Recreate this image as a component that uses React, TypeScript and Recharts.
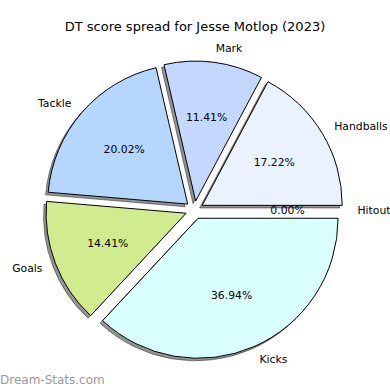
import { PieChart, Pie, Sector } from "recharts"

const categories = ["Handballs", "Mark", "Tackle", "Goals", "Kicks", "Hitout"]
const shares = [17.22, 11.41, 20.02, 14.41, 36.94, 0]
const colors = ["#eaf1ff", "#c4d8ff", "#b4d6ff", "#d1eb8f", "#d9ffff", "#f0f0f0"]

const data = categories.map((name, i) => ({ name, value: shares[i], color: colors[i] }))

const R = 140
const EXPLODE = 9
const SHADOW = 2.6
const FONT = "'DejaVu Sans', sans-serif"
const RAD = Math.PI / 180

// offset of an exploded wedge along its middle angle
const shift = (midAngle: number, dist: number) => ({
    dx: dist * Math.cos(-midAngle * RAD),
    dy: dist * Math.sin(-midAngle * RAD),
})

const renderShadow = (p: any) => {
    const { dx, dy } = shift(p.midAngle, EXPLODE)
    return (
        <Sector
            cx={p.cx + dx - SHADOW}
            cy={p.cy + dy + SHADOW}
            innerRadius={0}
            outerRadius={p.outerRadius}
            startAngle={p.startAngle}
            endAngle={p.endAngle}
            fill="#000"
            fillOpacity={0.42}
            stroke="#000"
            strokeOpacity={0.42}
            strokeWidth={1}
        />
    )
}

const renderSlice = (p: any) => {
    const { dx, dy } = shift(p.midAngle, EXPLODE)
    const ecx = p.cx + dx
    const ecy = p.cy + dy
    const cos = Math.cos(-p.midAngle * RAD)
    const sin = Math.sin(-p.midAngle * RAD)
    const lx = ecx + 1.1 * p.outerRadius * cos
    const ly = ecy + 1.1 * p.outerRadius * sin
    const px = ecx + 0.6 * p.outerRadius * cos
    const py = ecy + 0.6 * p.outerRadius * sin
    return (
        <g>
            <Sector
                cx={ecx}
                cy={ecy}
                innerRadius={0}
                outerRadius={p.outerRadius}
                startAngle={p.startAngle}
                endAngle={p.endAngle}
                fill={p.payload.color}
                stroke="#000"
                strokeWidth={1}
            />
            <text x={px} y={py} textAnchor="middle" dominantBaseline="central" fontSize={10.8} fontFamily={FONT} fill="#000">
                {(p.percent * 100).toFixed(2)}%
            </text>
            <text x={lx} y={ly} textAnchor={cos >= 0 ? "start" : "end"} dominantBaseline="central" fontSize={10.8} fontFamily={FONT} fill="#000">
                {p.name}
            </text>
        </g>
    )
}

export default function App() {
    return (
        <div style={{ position: "absolute", left: 0, top: 0, width: 390, height: 390, background: "#fff" }}>
            <PieChart width={390} height={390} margin={{ top: 0, right: 0, bottom: 0, left: 0 }}>
                <text x={195} y={26} textAnchor="middle" dominantBaseline="central" fontSize={13} fontFamily={FONT} fill="#000">
                    DT score spread for Jesse Motlop (2023)
                </text>
                <Pie
                    data={data}
                    dataKey="value"
                    nameKey="name"
                    cx={194.5}
                    cy={210}
                    outerRadius={R}
                    startAngle={0}
                    endAngle={360}
                    fill="none"
                    stroke="none"
                    label={renderShadow}
                    labelLine={false}
                    isAnimationActive={false}
                />
                <Pie
                    data={data}
                    dataKey="value"
                    nameKey="name"
                    cx={194.5}
                    cy={210}
                    outerRadius={R}
                    startAngle={0}
                    endAngle={360}
                    fill="none"
                    stroke="none"
                    label={renderSlice}
                    labelLine={false}
                    isAnimationActive={false}
                />
                <text x={0} y={380} dominantBaseline="central" fontSize={12} fontFamily={FONT} fill="#9a9a9a">
                    Dream-Stats.com
                </text>
            </PieChart>
        </div>
    )
}
